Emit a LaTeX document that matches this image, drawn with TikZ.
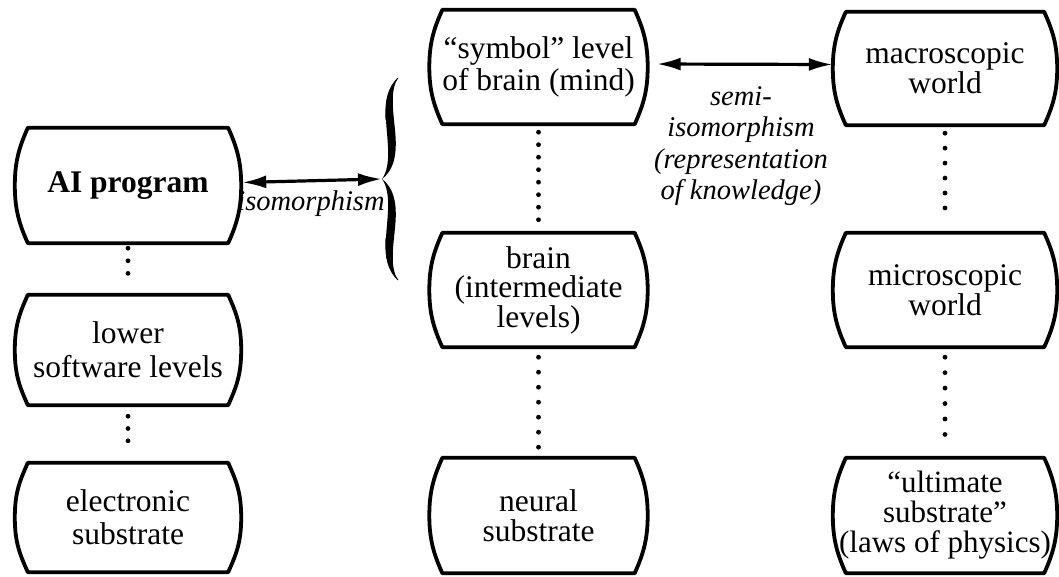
\documentclass[tikz,border=0pt]{standalone}
\usepackage{fontspec}
\setmainfont{Liberation Serif}
\usetikzlibrary{arrows.meta}
\tikzset{
  box/.style={draw=none, inner sep=0pt, align=center},
  lead/.style={font=\fontsize{31.5pt}{#1pt}\selectfont},
  outl/.style={line width=3.8pt, line join=round},
  ital/.style={inner sep=0pt, align=center, font=\fontsize{28.5pt}{31.5pt}\selectfont\itshape},
  tipL/.tip={Latex[length=24pt,width=13pt]},
  dbl/.style={tipL-tipL, line width=3.2pt},
  dotl/.style={line width=4.8pt, line cap=round, dash pattern=on 0pt off #1pt},
  c1/.style={minimum width=226pt},
  c2/.style={minimum width=218pt},
  c3/.style={minimum width=224pt}
}
\newcommand\barrelbox[1]{%
  \draw[outl] (#1.west)
    .. controls +(0,-25) and +(-8,18) .. ([xshift=13pt]#1.north west)
    -- ([xshift=-13pt]#1.north east)
    .. controls +(8,18) and +(0,-25) .. (#1.east)
    .. controls +(0,25) and +(8,-18) .. ([xshift=-13pt]#1.south east)
    -- ([xshift=13pt]#1.south west)
    .. controls +(-8,-18) and +(0,25) .. (#1.west) -- cycle;}
\begin{document}
\begin{tikzpicture}[x=1pt,y=-1pt]
\fill[white] (0,0) rectangle (1059,577);
\useasboundingbox (0,0) rectangle (1059,577);
% column 1
\node[box,c1,lead=33,minimum height=115pt] (ai) at (128,185.5) {\textbf{AI program}};
\node[box,c1,lead=34,minimum height=110pt] (low) at (128,350) {lower\\software levels};
\node[box,c1,lead=33,minimum height=109pt] (el) at (128,517.5) {electronic\\substrate};
% column 2
\node[box,c2,lead=32,minimum height=114pt] (sym) at (538.5,67) {“symbol” level\\of brain (mind)};
\node[box,c2,lead=29.5,minimum height=114pt] (br) at (538.5,290) {brain\\(intermediate\\levels)};
\node[box,c2,lead=30,minimum height=115pt] (neu) at (538.5,515.5) {neural\\substrate};
% column 3
\node[box,c3,lead=28.5,minimum height=113pt] (mac) at (945,68.5) {macroscopic\\world};
\node[box,c3,lead=28.5,minimum height=114pt] (mic) at (945,290) {microscopic\\world};
\node[box,c3,minimum height=115pt,font=\fontsize{31pt}{30pt}\selectfont] (ult) at (945,515.5) {“ultimate\\substrate”\\(laws of physics)};
\foreach \n in {ai,low,el,sym,br,neu,mac,mic,ult} {\barrelbox{\n}}
% dotted links
\draw[dotl=12.6, shorten <=5pt, shorten >=9pt] (ai.south) -- (low.north);
\draw[dotl=12.3, shorten <=11pt, shorten >=10pt] (low.south) -- (el.north);
\draw[dotl=12.5, shorten <=8pt, shorten >=13pt] (sym.south) -- (br.north);
\draw[dotl=15, shorten <=10pt, shorten >=10pt] (br.south) -- (neu.north);
\draw[dotl=14.95, shorten <=8pt, shorten >=10pt] (mac.south) -- (mic.north);
\draw[dotl=15.45, shorten <=10pt, shorten >=8pt] (mic.south) -- (ult.north);
% brace
\coordinate (btip) at (382,179);
\fill (398,78) .. controls (388,88) and (385,100) .. (386,120)
  .. controls (387,140) and (392,165) .. (btip)
  .. controls (392,193) and (387,218) .. (386,238)
  .. controls (385,258) and (388,270) .. (398,280)
  .. controls (390,268) and (393,248) .. (395,228)
  .. controls (397,208) and (396,190) .. (btip)
  .. controls (396,168) and (397,150) .. (395,130)
  .. controls (393,110) and (390,90) .. (398,78) -- cycle;
\draw[line width=0.9pt] (398,78) .. controls (388,88) and (385,100) .. (386,120);
\draw[line width=0.9pt] (398,280) .. controls (388,270) and (385,258) .. (386,238);
% arrows
\draw[dbl, shorten <=1pt] ([yshift=3pt]ai.east) -- (btip);
\draw[dbl, shorten <=9pt] ([yshift=3pt]sym.east) -- ([yshift=4pt]mac.west);
% labels
\node[ital, anchor=base] (iso) at (311,211) {isomorphism};
\node[ital] (semi) at (741,146) {semi-\\isomorphism\\(representation\\of knowledge)};
\end{tikzpicture}
\end{document}
